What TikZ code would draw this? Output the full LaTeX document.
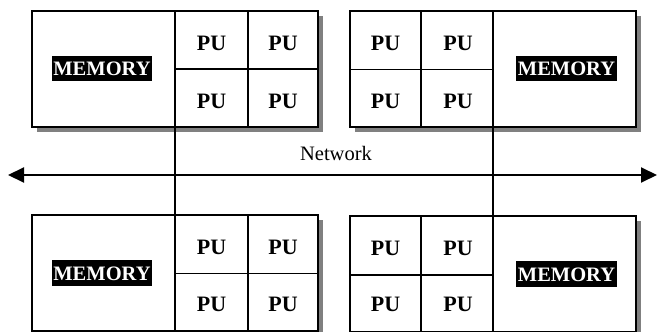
\documentclass[tikz,border=0pt]{standalone}
\usepackage{fontspec}
\setmainfont{Liberation Serif}
\usetikzlibrary{arrows.meta,shadows}

\begin{document}
\begin{tikzpicture}[x=1pt,y=-1pt,
  unit/.style={draw, line width=2pt, fill=white, inner sep=0pt, outer sep=0pt,
    minimum width=286pt, minimum height=116pt,
    drop shadow={shadow xshift=5pt, shadow yshift=-5pt, opacity=1, fill=black!50}},
  divider/.style={line width=1.6pt},
  pu/.style={anchor=base, inner sep=0pt, font=\bfseries\fontsize{22}{26}\selectfont},
  memlabel/.style={fill=black, text=white, inner xsep=1.5pt, inner ysep=0pt,
    text height=20pt, text depth=5.5pt, font=\bfseries\fontsize{20.5}{24}\selectfont},
  link/.style={line width=1.6pt},
  bus/.style={line width=2pt, {Triangle[length=16pt,width=15pt]}-{Triangle[length=16pt,width=15pt]}},
  netlabel/.style={anchor=base, inner sep=0pt, font=\fontsize{20.5}{24}\selectfont}
]
\useasboundingbox (0,0) rectangle (657,332);

% ---- node 1: memory left, processors right ----
\node[unit] (m1) at (175,69) {};
\draw[divider] (175,11) -- (175,127);
\draw[divider] (248,11) -- (248,127);
\draw[divider] (175,69) -- (318,69);
\node[memlabel] (mem1) at (102,68.7) {MEMORY};
\node[pu] (p1a) at (211.5,50) {PU};
\node[pu] (p1b) at (283,50) {PU};
\node[pu] (p1c) at (211.5,108) {PU};
\node[pu] (p1d) at (283,108) {PU};

% ---- node 2: processors left, memory right ----
\node[unit] (m2) at (493,69) {};
\draw[divider] (421,11) -- (421,127);
\draw[divider] (493,11) -- (493,127);
\draw[divider] (349,69.5) -- (493,69.5);
\node[memlabel] (mem2) at (566.5,68.5) {MEMORY};
\node[pu] (p2a) at (385.5,50) {PU};
\node[pu] (p2b) at (458,50) {PU};
\node[pu] (p2c) at (385.5,108) {PU};
\node[pu] (p2d) at (458,108) {PU};

% ---- node 3: memory left, processors right ----
\node[unit] (m3) at (175,273) {};
\draw[divider] (175,215) -- (175,331);
\draw[divider] (248,215) -- (248,331);
\draw[divider] (175,273.5) -- (318,273.5);
\node[memlabel] (mem3) at (102,273) {MEMORY};
\node[pu] (p3a) at (211.5,254.5) {PU};
\node[pu] (p3b) at (283,254.5) {PU};
\node[pu] (p3c) at (211.5,311.5) {PU};
\node[pu] (p3d) at (283,311.5) {PU};

% ---- node 4: processors left, memory right ----
\node[unit] (m4) at (493,274) {};
\draw[divider] (421,216) -- (421,332);
\draw[divider] (493,216) -- (493,332);
\draw[divider] (349,275) -- (493,275);
\node[memlabel] (mem4) at (566.5,274) {MEMORY};
\node[pu] (p4a) at (385.5,255) {PU};
\node[pu] (p4b) at (458,255) {PU};
\node[pu] (p4c) at (385.5,311.5) {PU};
\node[pu] (p4d) at (458,311.5) {PU};

% ---- interconnection network ----
\coordinate (netL) at (8,175);
\coordinate (netR) at (657,175);
\draw[bus] (netL) -- (netR);
\node[netlabel] (net) at (336,160) {Network};
\draw[link] (m1.south) -- (m3.north);
\draw[link] (m2.south) -- (m4.north);
\end{tikzpicture}
\end{document}
